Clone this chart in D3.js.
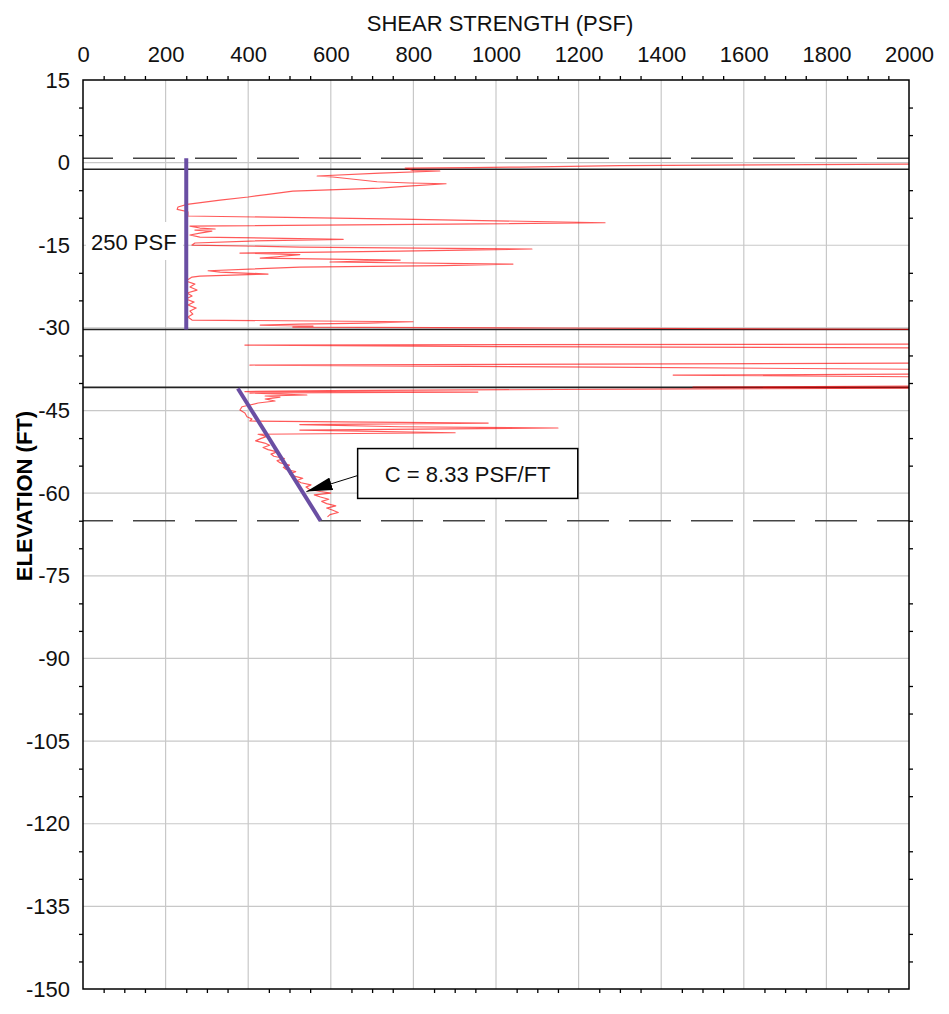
<!DOCTYPE html>
<html>
<head>
<meta charset="utf-8">
<script src="https://cdn.jsdelivr.net/npm/d3@7"></script>
<style>
  body { margin: 0; background: #fff; }
  svg { display: block; font-family: 'Liberation Sans', Arial, sans-serif; }
</style>
</head>
<body>
<svg></svg>
<script>
// tick labels
let xTickLabels = [0, 200, 400, 600, 800, 1000, 1200, 1400, 1600, 1800, 2000]
let yTickLabels = [15, 0, -15, -30, -45, -60, -75, -90, -105, -120, -135, -150]

// shear strength trace (elevation ft, strength psf)
let traceElev = [-0.25, -0.53, -0.80, -0.89, -0.98, -1.43, -1.52, -1.89, -2.43, -2.61,
  -3.47, -3.70, -3.83, -4.25, -4.61, -5.16, -5.70, -6.24, -6.79, -7.57,
  -8.06, -8.48, -8.91, -9.51, -9.69, -10.24, -10.91, -11.15, -11.51, -11.87,
  -12.05, -12.24, -12.42, -12.78, -13.14, -13.51, -13.92, -14.23, -14.59, -14.96,
  -15.32, -15.68, -16.05, -16.23, -16.41, -16.68, -17.08, -17.32, -17.68, -18.04,
  -18.41, -18.68, -18.95, -19.62, -19.86, -20.22, -20.59, -20.77, -21.49, -22.04,
  -22.58, -23.13, -23.67, -24.22, -24.76, -25.31, -25.85, -26.40, -26.94, -27.49,
  -28.03, -28.57, -28.88, -29.12, -29.30, -29.48, -29.66, -29.84, -30.02, -30.29,
  -32.93, -33.11, -33.38, -33.66, -36.38, -36.74, -37.11, -37.56, -38.38, -38.56,
  -38.92, -40.55, -40.73, -40.91, -41.18, -41.37, -41.55, -41.64, -41.82, -42.18,
  -42.36, -42.55, -42.91, -43.27, -43.63, -44.00, -44.31, -44.91, -45.45, -46.12,
  -46.54, -46.90, -47.27, -47.54, -47.94, -48.17, -48.54, -49.03, -49.30, -49.70,
  -50.10, -50.50, -50.90, -51.30, -51.70, -52.10, -52.50, -52.90, -53.30, -53.70,
  -54.10, -54.50, -54.90, -55.30, -55.70, -56.10, -56.50, -56.90, -57.30, -57.70,
  -58.10, -58.50, -58.90, -59.30, -59.70, -60.00, -60.30, -60.70, -61.10, -61.50,
  -61.90, -62.30, -62.70, -63.10, -63.50, -63.90, -64.30]
let traceSu = [2100, 1300, 1058, 937, 780, 799, 864, 719, 567, 605,
  712, 792, 879, 787, 719, 508, 453, 400, 332, 252,
  230, 228, 254, 254, 252, 768, 1264, 889, 259, 283,
  320, 271, 312, 283, 259, 283, 630, 404, 271, 264,
  525, 1087, 768, 581, 380, 525, 470, 429, 768, 598,
  1041, 872, 525, 303, 332, 448, 283, 264, 249, 271,
  259, 276, 252, 264, 249, 269, 254, 274, 259, 266,
  254, 264, 799, 690, 525, 429, 557, 508, 1143, 2100,
  2100, 392, 1010, 2100, 2100, 404, 1252, 2100, 2100, 1429,
  2100, 2100, 1477, 2100, 1150, 598, 392, 956, 404, 542,
  441, 477, 441, 465, 424, 404, 385, 380, 392, 397,
  409, 404, 981, 525, 768, 1150, 525, 901, 424, 445,
  430, 418, 440, 452, 436, 448, 470, 455, 462, 488,
  470, 478, 500, 485, 492, 515, 500, 512, 532, 518,
  528, 552, 540, 548, 575, 600, 560, 575, 595, 578,
  590, 612, 590, 605, 618, 598, 592]

// layer boundaries and reference levels
let layerBreaks = [-1.2, -30.3, -40.8]
let dashedLevels = [0.8, -65]

// design strength lines
let upperSu = [250, 250]
let upperElev = [0.8, -30.3]
let lowerSu = [375, 575]
let lowerElev = [-41, -65]

let width = 949
let height = 1014
let plotLeft = 83, plotRight = 909, plotTop = 80, plotBottom = 989

let svg = d3.select('svg').attr('width', width).attr('height', height)

let xScale = d3.scaleLinear().domain([0, 2000]).range([plotLeft, plotRight])
let yScale = d3.scaleLinear().domain([15, -150]).range([plotTop, plotBottom])

svg.append('clipPath').attr('id', 'plot-clip')
  .append('rect')
  .attr('x', plotLeft).attr('y', plotTop)
  .attr('width', plotRight - plotLeft).attr('height', plotBottom - plotTop)

// grid
svg.append('g').selectAll('line')
  .data(xTickLabels.slice(1, -1))
  .enter().append('line')
  .attr('x1', d => xScale(d)).attr('x2', d => xScale(d))
  .attr('y1', plotTop).attr('y2', plotBottom)
  .attr('stroke', '#c8c8c8').attr('stroke-width', 1.2)

svg.append('g').selectAll('line')
  .data(yTickLabels.slice(1, -1))
  .enter().append('line')
  .attr('x1', plotLeft).attr('x2', plotRight)
  .attr('y1', d => yScale(d)).attr('y2', d => yScale(d))
  .attr('stroke', '#c8c8c8').attr('stroke-width', 1.2)

// minor ticks
let xMinor = d3.range(0, 2001, 50).filter(d => d % 200 != 0)
let yMinor = d3.range(15, -151, -5).filter(d => d % 15 != 0)

let tickStyle = g => {
  g.select('.domain').remove()
  g.selectAll('line').attr('stroke', '#000').attr('stroke-width', 1.3)
}

svg.append('g').attr('transform', 'translate(0,' + plotTop + ')')
  .call(d3.axisTop(xScale).tickValues(xMinor).tickSize(4).tickFormat(''))
  .call(tickStyle)
svg.append('g').attr('transform', 'translate(0,' + plotBottom + ')')
  .call(d3.axisBottom(xScale).tickValues(xMinor).tickSize(4).tickFormat(''))
  .call(tickStyle)
svg.append('g').attr('transform', 'translate(' + plotLeft + ',0)')
  .call(d3.axisLeft(yScale).tickValues(yMinor).tickSize(4).tickFormat(''))
  .call(tickStyle)
svg.append('g').attr('transform', 'translate(' + plotRight + ',0)')
  .call(d3.axisRight(yScale).tickValues(yMinor).tickSize(4).tickFormat(''))
  .call(tickStyle)

// tick labels (plain hyphen for negatives, like the original)
let plainNumber = d => String(d)

let xLabels = svg.append('g').attr('transform', 'translate(0,' + plotTop + ')')
  .call(d3.axisTop(xScale).tickValues(xTickLabels).tickSize(0).tickPadding(18).tickFormat(plainNumber))
xLabels.select('.domain').remove()
xLabels.selectAll('text').attr('font-size', 22).attr('fill', '#111')
  .attr('font-family', "'Liberation Sans', Arial, sans-serif")

let yLabels = svg.append('g').attr('transform', 'translate(' + plotLeft + ',0)')
  .call(d3.axisLeft(yScale).tickValues(yTickLabels).tickSize(0).tickPadding(13).tickFormat(plainNumber))
yLabels.select('.domain').remove()
yLabels.selectAll('text').attr('font-size', 22).attr('fill', '#111')
  .attr('font-family', "'Liberation Sans', Arial, sans-serif")

// axis titles
svg.append('text')
  .attr('x', 500).attr('y', 31)
  .attr('text-anchor', 'middle')
  .attr('font-size', 22).attr('fill', '#111')
  .text('SHEAR STRENGTH (PSF)')

svg.append('text')
  .attr('transform', 'translate(32,' + 496 + ') rotate(-90)')
  .attr('text-anchor', 'middle')
  .attr('font-size', 22).attr('font-weight', 'bold').attr('fill', '#000')
  .text('ELEVATION (FT)')

// label box for the upper design line
svg.append('rect')
  .attr('x', 86).attr('y', 222).attr('width', 97).attr('height', 38)
  .attr('fill', '#fff')
svg.append('text')
  .attr('x', 91).attr('y', 250)
  .attr('font-size', 22).attr('fill', '#111')
  .text('250 PSF')

let plot = svg.append('g').attr('clip-path', 'url(#plot-clip)')

// dashed reference levels
plot.selectAll('.dashed')
  .data(dashedLevels)
  .enter().append('line')
  .attr('class', 'dashed')
  .attr('x1', plotLeft).attr('x2', plotRight)
  .attr('y1', d => yScale(d)).attr('y2', d => yScale(d))
  .attr('stroke', '#444').attr('stroke-width', 1.6)
  .attr('stroke-dasharray', '42,20').attr('stroke-dashoffset', 12)

// layer boundaries
plot.selectAll('.layer')
  .data(layerBreaks)
  .enter().append('line')
  .attr('class', 'layer')
  .attr('x1', plotLeft).attr('x2', plotRight)
  .attr('y1', d => yScale(d)).attr('y2', d => yScale(d))
  .attr('stroke', '#222').attr('stroke-width', 1.6)

// strength trace
let traceLine = d3.line()
  .x(i => xScale(traceSu[i]))
  .y(i => yScale(traceElev[i]))

plot.append('path')
  .attr('d', traceLine(d3.range(traceElev.length)))
  .attr('fill', 'none')
  .attr('stroke', '#ff0000').attr('stroke-width', 1.2)
  .attr('stroke-opacity', 0.65)
  .attr('stroke-linejoin', 'round')

// design lines
let designLine = (su, elev) => d3.line()
  .x(i => xScale(su[i]))
  .y(i => yScale(elev[i]))(d3.range(su.length))

plot.append('path').attr('d', designLine(upperSu, upperElev))
  .attr('stroke', '#6a4ea3').attr('stroke-width', 4).attr('fill', 'none')
plot.append('path').attr('d', designLine(lowerSu, lowerElev))
  .attr('stroke', '#6a4ea3').attr('stroke-width', 4).attr('fill', 'none')

// frame
svg.append('rect')
  .attr('x', plotLeft).attr('y', plotTop)
  .attr('width', plotRight - plotLeft).attr('height', plotBottom - plotTop)
  .attr('fill', 'none').attr('stroke', '#000').attr('stroke-width', 1.5)

// slope callout
svg.append('defs').append('marker')
  .attr('id', 'arrow')
  .attr('viewBox', '0 0 20 10')
  .attr('refX', 20).attr('refY', 5)
  .attr('markerWidth', 26).attr('markerHeight', 13)
  .attr('markerUnits', 'userSpaceOnUse')
  .attr('orient', 'auto')
  .append('path').attr('d', 'M0,0 L20,5 L0,10 Z').attr('fill', '#000')

let boxX = xScale(665), boxY = yScale(-51.9)
let boxW = xScale(1198) - boxX, boxH = yScale(-60.95) - boxY

svg.append('line')
  .attr('x1', boxX).attr('y1', boxY + 27)
  .attr('x2', xScale(541)).attr('y2', yScale(-59.7))
  .attr('stroke', '#000').attr('stroke-width', 1)
  .attr('marker-end', 'url(#arrow)')

svg.append('rect')
  .attr('x', boxX).attr('y', boxY)
  .attr('width', boxW).attr('height', boxH)
  .attr('fill', '#fff').attr('stroke', '#000').attr('stroke-width', 1.5)

svg.append('text')
  .attr('x', boxX + boxW / 2).attr('y', boxY + 33)
  .attr('text-anchor', 'middle')
  .attr('font-size', 22).attr('fill', '#111')
  .text('C = 8.33 PSF/FT')
</script>
</body>
</html>
